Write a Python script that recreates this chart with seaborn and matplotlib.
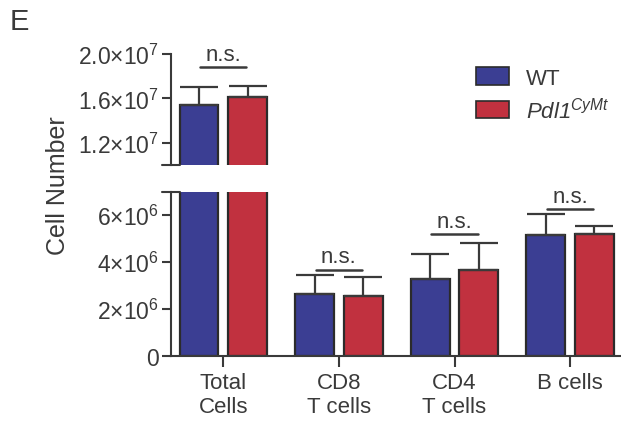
import matplotlib
matplotlib.use("Agg")
import matplotlib.pyplot as plt
import seaborn as sns
import pandas as pd
import numpy as np
from matplotlib.patches import Patch

# ---- data -------------------------------------------------------------
categories = ["Total\nCells", "CD8\nT cells", "CD4\nT cells", "B cells"]
genotypes = ["WT", "Pdl1CyMt"]
wt_mean = [1.544e7, 2.64e6, 3.29e6, 5.17e6]
wt_sem = [1.63e6, 0.83e6, 1.06e6, 0.90e6]
mut_mean = [1.610e7, 2.58e6, 3.69e6, 5.19e6]
mut_sem = [1.03e6, 0.81e6, 1.12e6, 0.37e6]
sig_labels = ["n.s.", "n.s.", "n.s.", "n.s."]
sig_heights = [1.88e7, 3.69e6, 5.18e6, 6.28e6]
lower_ticks = [0, 2e6, 4e6, 6e6]
lower_ticklabels = ["0", r"$2{\times}10^{6}$", r"$4{\times}10^{6}$", r"$6{\times}10^{6}$"]
upper_ticks = [1.2e7, 1.6e7, 2.0e7]
upper_ticklabels = [r"$1.2{\times}10^{7}$", r"$1.6{\times}10^{7}$", r"$2.0{\times}10^{7}$"]
legend_labels = ["WT", r"$\mathsf{Pdl1}^{\mathsf{CyMt}}$"]

df = pd.DataFrame({
    "category": categories * 2,
    "genotype": [genotypes[0]] * 4 + [genotypes[1]] * 4,
    "value": wt_mean + mut_mean,
    "err": wt_sem + mut_sem,
})

# ---- style ------------------------------------------------------------
sns.set_theme(style="white")
TXT = "#3a3a3a"
LINE = "#3a3a3a"
plt.rcParams["font.family"] = ["Liberation Sans", "DejaVu Sans"]
plt.rcParams["mathtext.fontset"] = "custom"
plt.rcParams["mathtext.rm"] = "Liberation Sans"
plt.rcParams["mathtext.it"] = "Liberation Sans:italic"
# italic sans alias so digits stay slanted in the genotype label
plt.rcParams["mathtext.sf"] = "Liberation Sans:italic"
plt.rcParams["mathtext.default"] = "rm"
plt.rcParams["text.color"] = TXT
plt.rcParams["xtick.color"] = LINE
plt.rcParams["ytick.color"] = LINE
plt.rcParams["xtick.labelcolor"] = TXT
plt.rcParams["ytick.labelcolor"] = TXT

palette = {"WT": "#3B3E93", "Pdl1CyMt": "#C1313F"}
W, H = 621, 427
fig = plt.figure(figsize=(W / 100, H / 100), dpi=100)

left = 171 / W
ax_top = fig.add_axes([left, 1 - 166 / H, 1 - left, (166 - 55) / H])
ax_bot = fig.add_axes([left, 1 - 357.3 / H, 1 - left, (357.3 - 192.7) / H])

for ax in (ax_top, ax_bot):
    sns.barplot(data=df, x="category", y="value", hue="genotype",
                order=categories, hue_order=genotypes, palette=palette,
                width=0.84, gap=0.2, errorbar=None, legend=False,
                edgecolor="#2b2b2b", linewidth=1.6, saturation=1, ax=ax)
    for cont, g in zip(ax.containers, genotypes):
        sub = df[df.genotype == g].set_index("category").loc[categories]
        xs = [p.get_x() + p.get_width() / 2 for p in cont.patches]
        ys = sub["value"].to_numpy()
        es = sub["err"].to_numpy()
        ax.errorbar(xs, ys, yerr=[np.zeros_like(es), es], fmt="none",
                    ecolor=LINE, elinewidth=1.6, capsize=14, capthick=1.6,
                    zorder=1)
    ax.set_xlim(-0.452, 3.44)
    ax.set_xlabel("")
    ax.set_ylabel("")
    for s in ("top", "right"):
        ax.spines[s].set_visible(False)
    ax.spines["left"].set_linewidth(1.5)
    ax.spines["left"].set_color(LINE)
    ax.tick_params(axis="y", length=6.5, width=1.5, pad=2.5, labelsize=16.5,
                   direction="out", left=True)
    ax.patch.set_alpha(0)

ax_top.set_ylim(1.0e7, 2.0e7)
ax_top.set_yticks(upper_ticks, upper_ticklabels)
ax_top.spines["bottom"].set_visible(False)
ax_top.set_xticks([])

ax_bot.set_ylim(0, 7e6)
ax_bot.set_yticks(lower_ticks, lower_ticklabels)
ax_bot.spines["bottom"].set_linewidth(1.5)
ax_bot.spines["bottom"].set_color(LINE)
ax_bot.tick_params(axis="x", length=8, width=1.5, pad=3, labelsize=16,
                   direction="out", bottom=True)
for t in ax_bot.get_xticklabels():
    t.set_linespacing(1.2)

# axis break marks
brk = 0.019
ax_top.plot([-brk, brk], [0, 0], transform=ax_top.transAxes, color=LINE,
            lw=1.5, clip_on=False)
ax_bot.plot([-brk, brk], [1, 1], transform=ax_bot.transAxes, color=LINE,
            lw=1.5, clip_on=False)

# significance annotations
for i, (lab, h) in enumerate(zip(sig_labels, sig_heights)):
    ax = ax_top if h >= 1.0e7 else ax_bot
    ax.plot([i - 0.2, i + 0.2], [h, h], color=LINE, lw=1.8, clip_on=False)
    ax.annotate(lab, xy=(i, h), xytext=(0, 1.5), textcoords="offset points",
                ha="center", va="bottom", fontsize=16, color=TXT,
                annotation_clip=False)

# legend
handles = [Patch(facecolor=palette[g], edgecolor="#2b2b2b", linewidth=1.2)
           for g in genotypes]
fig.legend(handles, legend_labels, loc="upper left",
           bbox_to_anchor=(476 / W, 1 - 68 / H), frameon=False,
           borderpad=0, borderaxespad=0, fontsize=16, handlelength=1.5,
           handleheight=0.85, handletextpad=0.75, labelspacing=0.35)

fig.text(58 / W, 1 - 186 / H, "Cell Number", rotation=90, ha="center",
         va="center", fontsize=18, color=TXT)
fig.text(10 / W, 1 - 8 / H, "E", ha="left", va="top", fontsize=21, color=TXT)

fig.savefig("out.png", dpi=100)
